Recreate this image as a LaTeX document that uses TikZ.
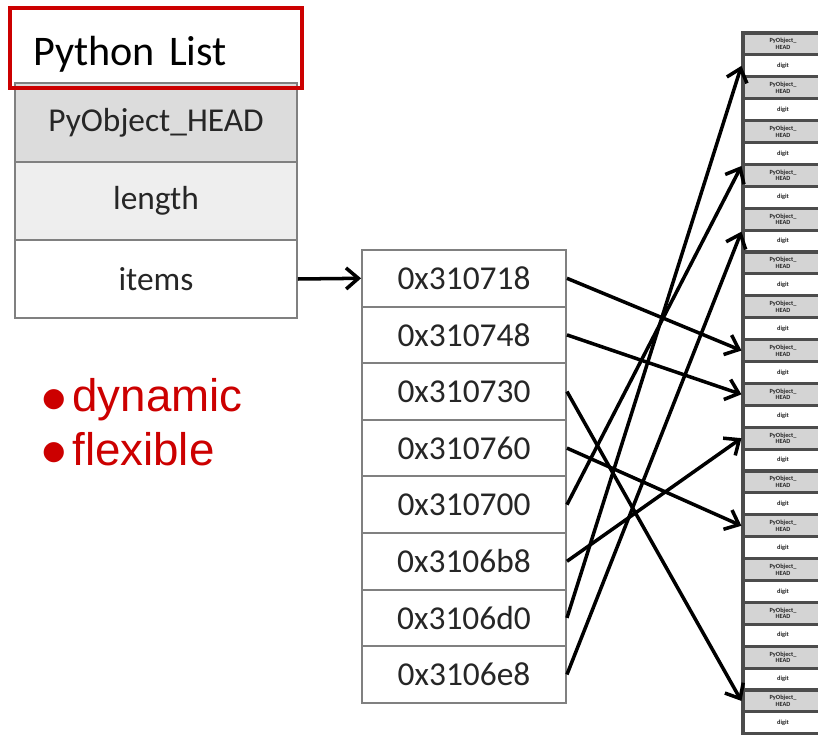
\documentclass[tikz,border=0pt]{standalone}
\usepackage{fontspec}
\setmainfont{Carlito}
\newfontfamily\arialfont{Liberation Sans}
\newfontfamily\symfont{DejaVu Sans}
\usetikzlibrary{arrows.meta}

\definecolor{listred}{HTML}{CC0000}
\definecolor{headgray}{HTML}{DCDCDC}
\definecolor{lengray}{HTML}{EEEEEE}
\definecolor{cellgray}{HTML}{D4D4D4}
\definecolor{edgegray}{HTML}{808080}
\newcommand{\dotmark}{{\symfont\fontsize{15}{15}\selectfont\raisebox{0.35ex}{●}}\hspace{4pt}}

\begin{document}
\begin{tikzpicture}[x=0.02cm,y=-0.02cm,
  field/.style={draw=edgegray,line width=1.1pt,minimum width=5.64cm,minimum height=1.57cm,inner sep=0pt,text=black!85,font=\fontsize{19}{19}\selectfont},
  addr/.style={draw=edgegray,line width=1.1pt,fill=white,minimum width=4.08cm,minimum height=1.132cm,inner sep=0pt,text=black!85,font=\fontsize{19}{19}\selectfont},
  objcell/.style={draw=black!70,line width=1.8pt,minimum width=1.6cm,minimum height=0.438cm,inner sep=0pt,align=center,text=black!85,font=\fontsize{3.6}{3.8}\selectfont\bfseries},
  ptr/.style={line width=2pt,-{Straight Barb[length=7pt,width=12pt]}}]
%\draw[help lines,step=50] (0,0) grid (818,736);
\useasboundingbox (0,0) rectangle (818,736);
\clip (0,0) rectangle (818,736);

\node[field,fill=headgray,minimum height=1.58cm] (head) at (156,122.5) {PyObject\_HEAD};
\node[field,fill=lengray] (len) at (156,201) {length};
\node[field,fill=white] (items) at (156,279) {items};
\node[draw=listred,line width=2.4pt,minimum width=5.84cm,minimum height=1.6cm,inner xsep=0.46cm,inner ysep=0pt,
      text height=20pt,text depth=0pt,text width=4.92cm,align=left,font=\fontsize{24}{24}\selectfont] (title) at (156,48) {Python List};

\node[anchor=base west,inner sep=0pt,text=listred,font=\arialfont\fontsize{26}{26}\selectfont] (dyn) at (42,412) {\dotmark dynamic};
\node[anchor=base west,inner sep=0pt,text=listred,font=\arialfont\fontsize{26}{26}\selectfont] (flex) at (42,465) {\dotmark flexible};

\foreach \i/\t in {1/0x310718, 2/0x310748, 3/0x310730, 4/0x310760, 5/0x310700, 6/0x3106b8, 7/0x3106d0, 8/0x3106e8}
  \node[addr] (a\i) at (464,{221.7+56.6*\i}) {\t};

\foreach \i in {0,...,31} {
  \ifodd\i
    \node[objcell,fill=white] (c\i) at (783,{43.95+21.9*\i}) {digit};
  \else
    \node[objcell,fill=cellgray] (c\i) at (783,{43.95+21.9*\i}) {PyObject\_\\HEAD};
  \fi
}

\draw[ptr] (items.east) -- (a1.west);
\foreach \s/\t in {1/c14.west, 2/c16.west, 3/c30.west, 4/c22.west, 5/c5.south west, 6/c18.west, 7/c1.west, 8/c8.south west}
  \draw[ptr] (a\s.east) -- (\t);
\end{tikzpicture}
\end{document}
